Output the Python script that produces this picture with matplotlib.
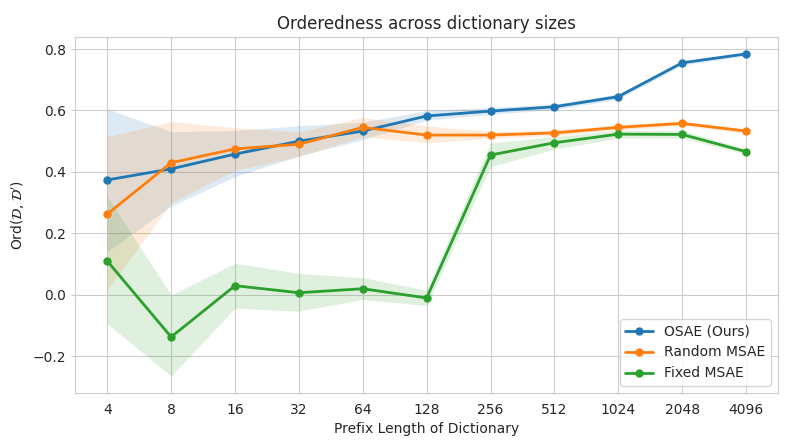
import numpy as np
import matplotlib
matplotlib.use('Agg')
import matplotlib.pyplot as plt
import seaborn as sns

sns.set_style('whitegrid')

prefix_lengths = [4, 8, 16, 32, 64, 128, 256, 512, 1024, 2048, 4096]

osae_mean = [0.374, 0.410, 0.458, 0.500, 0.533, 0.582, 0.598, 0.612, 0.645, 0.755, 0.784]
osae_low = [0.141, 0.289, 0.385, 0.452, 0.505, 0.568, 0.588, 0.603, 0.636, 0.748, 0.778]
osae_high = [0.605, 0.531, 0.535, 0.550, 0.562, 0.600, 0.610, 0.621, 0.654, 0.762, 0.790]

random_mean = [0.263, 0.430, 0.475, 0.490, 0.545, 0.520, 0.520, 0.527, 0.545, 0.558, 0.533]
random_low = [0.016, 0.300, 0.405, 0.450, 0.515, 0.495, 0.510, 0.518, 0.537, 0.550, 0.526]
random_high = [0.515, 0.564, 0.544, 0.530, 0.578, 0.550, 0.532, 0.536, 0.553, 0.566, 0.540]

fixed_mean = [0.110, -0.137, 0.030, 0.007, 0.020, -0.010, 0.455, 0.495, 0.523, 0.522, 0.466]
fixed_low = [-0.094, -0.264, -0.043, -0.053, -0.015, -0.035, 0.417, 0.474, 0.510, 0.510, 0.458]
fixed_high = [0.320, 0.000, 0.103, 0.070, 0.056, 0.015, 0.494, 0.515, 0.535, 0.535, 0.474]

series = [
    ('OSAE (Ours)', osae_mean, osae_low, osae_high, '#1f77b4'),
    ('Random MSAE', random_mean, random_low, random_high, '#ff7f0e'),
    ('Fixed MSAE', fixed_mean, fixed_low, fixed_high, '#2ca02c'),
]

x_vals = np.arange(len(prefix_lengths))

fig, ax = plt.subplots(figsize=(7.93, 4.46), dpi=100)
for label, mean, low, high, color in series:
    ax.plot(x_vals, mean, marker='o', markersize=5, linewidth=2, color=color, label=label)
    ax.fill_between(x_vals, low, high, color=color, alpha=0.15, linewidth=0)

ax.set_xticks(x_vals, [str(p) for p in prefix_lengths])
ax.set_xlabel('Prefix Length of Dictionary')
ax.set_ylabel(r"Ord($\mathcal{D}, \mathcal{D}'$)")
ax.set_title('Orderedness across dictionary sizes')
ax.set_ylim(-0.319, 0.839)
ax.tick_params(axis='y', left=True, length=3, color='.8')
ax.legend(loc='lower right', frameon=True)

plt.subplots_adjust(left=0.095, right=0.981, top=0.917, bottom=0.119)
plt.savefig('out.png', dpi=100)
